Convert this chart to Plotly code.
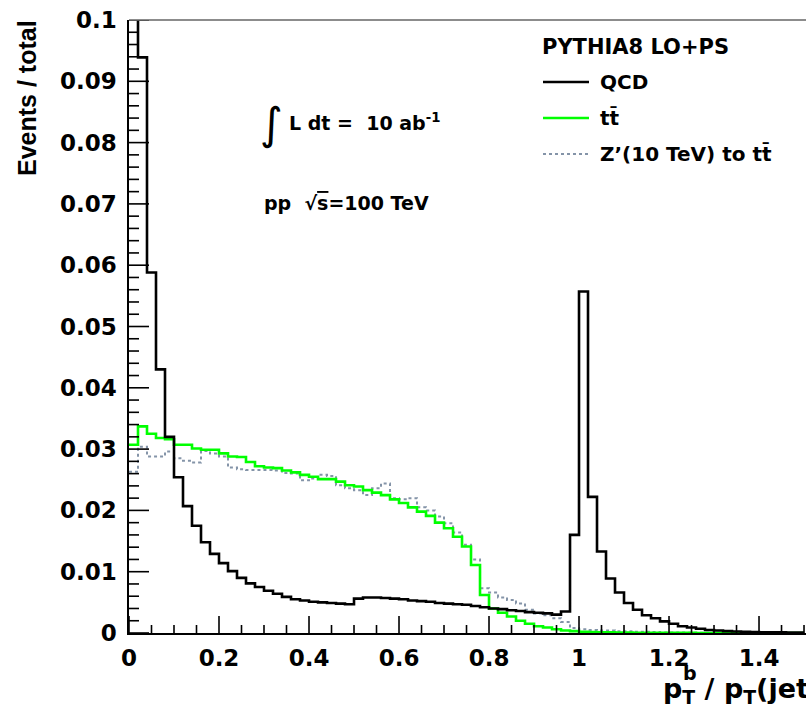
import plotly.graph_objects as go

# ---- data: normalized event fractions in bins of 0.02 from 0 to 1.5 ----
bin_width = 0.02
n_bins = 75
bin_edges = [round(i * bin_width, 4) for i in range(n_bins + 1)]

qcd = [0.15, 0.0939, 0.0588, 0.0430, 0.0320, 0.0254, 0.0207, 0.0175, 0.0148, 0.0129,
       0.0114, 0.0101, 0.0090, 0.0081, 0.0075, 0.0069, 0.0064, 0.0059, 0.0055, 0.0053,
       0.0051, 0.0050, 0.0049, 0.0048, 0.0047, 0.0056, 0.0058, 0.0058, 0.0057, 0.0056,
       0.0055, 0.0053, 0.0052, 0.0051, 0.0049, 0.0048, 0.0047, 0.0046, 0.0044, 0.0042,
       0.0040, 0.0039, 0.0037, 0.0036, 0.0034, 0.0033, 0.0032, 0.0030, 0.0035, 0.0160,
       0.0557, 0.0222, 0.0133, 0.0089, 0.0066, 0.0049, 0.0038, 0.0029, 0.0024, 0.0019,
       0.0015, 0.0011, 0.0009, 0.0007, 0.0005, 0.0004, 0.0003, 0.00025, 0.0002, 0.00015,
       0.00012, 0.0001, 0.0001, 0.00008, 0.00006]

ttbar = [0.0307, 0.0337, 0.0325, 0.0318, 0.0316, 0.0307, 0.0307, 0.0301, 0.0299, 0.0299,
         0.0293, 0.0288, 0.0287, 0.0279, 0.0272, 0.0270, 0.0269, 0.0265, 0.0262, 0.0258,
         0.0255, 0.0251, 0.0251, 0.0247, 0.0241, 0.0239, 0.0233, 0.0229, 0.0225, 0.0218,
         0.0212, 0.0205, 0.0198, 0.0191, 0.0180, 0.0171, 0.0157, 0.0141, 0.0111, 0.0062,
         0.0040, 0.0033, 0.0027, 0.0020, 0.0015, 0.0011, 0.0009, 0.0006, 0.0004, 0.0003,
         0.0002, 0.00015, 0.0001, 0.0001, 0.00008, 0.00006, 0.00005, 0.00004, 0.00003, 0.00003,
         0.00002, 0.00002, 0.00002, 0.00001, 0.00001, 0.00001, 0.00001, 0.0, 0.0, 0.0,
         0.0, 0.0, 0.0, 0.0, 0.0]

zprime = [0.0263, 0.0304, 0.0288, 0.0288, 0.0296, 0.0285, 0.0281, 0.0278, 0.0297, 0.0293,
          0.0288, 0.0270, 0.0267, 0.0266, 0.0266, 0.0266, 0.0265, 0.0261, 0.0260, 0.0249,
          0.0252, 0.0258, 0.0256, 0.0241, 0.0236, 0.0233, 0.0225, 0.0236, 0.0244, 0.0220,
          0.0218, 0.0220, 0.0205, 0.0200, 0.0190, 0.0179, 0.0164, 0.0144, 0.0120, 0.0073,
          0.0066, 0.0058, 0.0054, 0.0048, 0.0038, 0.0032, 0.0029, 0.0024, 0.0018, 0.0008,
          0.0006, 0.0005, 0.0004, 0.0004, 0.0003, 0.0003, 0.0002, 0.0002, 0.00015, 0.0001,
          0.0001, 0.00008, 0.00006, 0.00005, 0.00004, 0.00003, 0.00002, 0.00002, 0.00001, 0.00001,
          0.0, 0.0, 0.0, 0.0, 0.0]

series_names = ["QCD", "tt\u0304", "Z\u2019(10 TeV) to tt\u0304"]

# ---- layout geometry (pixels) ----
W, H = 806, 707
ML, MT, MB = 129, 20, 74
PW, PH = W - ML, H - MT - MB
XMAX = 1.5044
YMAX = 0.1
X_MAJOR, X_MINOR = 0.2, 0.05
Y_MAJOR, Y_MINOR = 0.01, 0.002
X_PER_PX = XMAX / PW
Y_PER_PX = YMAX / PH


def px(xp):
    return (xp - ML) / PW


def py(yp):
    return (MT + PH - yp) / PH


TICK_FONT = dict(family="DejaVu Sans", size=23, color="black", weight="bold")
TXT_FONT = "DejaVu Sans"


def step_xy(vals):
    xs = bin_edges[:]
    ys = list(vals) + [vals[-1]]
    return xs, ys


styles = [
    dict(color="black", width=2.6),
    dict(color="#00ff00", width=2.6),
    dict(color="#8494a8", width=2.0, dash="dot"),
]

fig = go.Figure()
for vals, name, st in [(zprime, series_names[2], styles[2]),
                       (ttbar, series_names[1], styles[1]),
                       (qcd, series_names[0], styles[0])]:
    xs, ys = step_xy(vals)
    fig.add_trace(go.Scatter(x=xs, y=ys, mode="lines", line_shape="hv",
                             line=st, name=name, showlegend=False, hoverinfo="skip"))

# ROOT-style inside tick marks drawn as a line trace on top
tx, ty = [], []
n_x = int(round(XMAX / X_MINOR)) + 1
for i in range(n_x):
    xv = round(i * X_MINOR, 4)
    if xv > XMAX:
        break
    major = abs(xv / X_MAJOR - round(xv / X_MAJOR)) < 1e-6
    ln = (17 if major else 8) * Y_PER_PX
    tx += [xv, xv, None]
    ty += [0, ln, None]
n_y = int(round(YMAX / Y_MINOR)) + 1
for i in range(n_y):
    yv = round(i * Y_MINOR, 5)
    major = abs(yv / Y_MAJOR - round(yv / Y_MAJOR)) < 1e-6
    ln = (20 if major else 10) * X_PER_PX
    tx += [0, ln, None]
    ty += [yv, yv, None]
fig.add_trace(go.Scatter(x=tx, y=ty, mode="lines", line=dict(color="black", width=1.6),
                         showlegend=False, hoverinfo="skip", connectgaps=False))

fig.update_layout(
    width=W, height=H,
    margin=dict(l=ML, r=0, t=MT, b=MB, pad=0),
    paper_bgcolor="white", plot_bgcolor="white",
    showlegend=False,
    xaxis=dict(range=[0, XMAX], showgrid=False, zeroline=False,
               showline=True, linecolor="black", linewidth=1.5,
               tickmode="linear", tick0=0, dtick=X_MAJOR, ticks="",
               tickfont=TICK_FONT, ticklabelstandoff=4),
    yaxis=dict(range=[0, YMAX], showgrid=False, zeroline=False,
               showline=True, linecolor="black", linewidth=1.5,
               tickmode="linear", tick0=0, dtick=Y_MAJOR, ticks="",
               tickfont=TICK_FONT, ticklabelstandoff=6),
)

shapes = []
# top frame line
shapes.append(dict(type="line", xref="paper", yref="paper", x0=0, x1=1, y0=1, y1=1,
                   line=dict(color="#666666", width=1.5)))
# legend samples
leg_y = [82, 118, 154]
for st, yy in zip(styles, leg_y):
    line = dict(color=st["color"], width=st["width"])
    if "dash" in st:
        line["dash"] = st["dash"]
    shapes.append(dict(type="line", xref="paper", yref="paper",
                       x0=px(543), x1=px(589), y0=py(yy), y1=py(yy), line=line))

ann = []
# legend header and labels
ann.append(dict(text="PYTHIA8 LO+PS", x=px(540), y=py(47), xanchor="left", yanchor="middle",
                font=dict(family=TXT_FONT, size=21, color="black", weight="bold")))
for name, yy in zip(series_names, leg_y):
    ann.append(dict(text=name, x=px(598), y=py(yy), xanchor="left", yanchor="middle",
                    font=dict(family=TXT_FONT, size=20, color="black", weight="bold")))

# integral text
ann.append(dict(text="\u222b", x=px(271), y=py(123), xanchor="center", yanchor="middle",
                font=dict(family="DejaVu Sans", size=44, color="black")))
ann.append(dict(text="L dt =  10 ab<sup>-1</sup>", x=px(287), y=py(122), xanchor="left",
                yanchor="middle",
                font=dict(family=TXT_FONT, size=19, color="black", weight="bold")))
ann.append(dict(text="pp  \u221a<span style='text-decoration:overline'>s</span>=100 TeV",
                x=px(262), y=py(203), xanchor="left", yanchor="middle",
                font=dict(family=TXT_FONT, size=19, color="black", weight="bold")))

# axis titles
ann.append(dict(text="Events / total", textangle=-90, x=px(27), y=py(18),
                xanchor="center", yanchor="top",
                font=dict(family="Liberation Sans", size=25, color="black", weight="bold")))
ann.append(dict(text="p<sub>T</sub> / p<sub>T</sub>(jet)", x=px(661), y=py(690),
                xanchor="left", yanchor="middle",
                font=dict(family=TXT_FONT, size=27, color="black", weight="bold")))
ann.append(dict(text="b", x=px(681), y=py(673), xanchor="left", yanchor="middle",
                font=dict(family=TXT_FONT, size=19, color="black", weight="bold")))

for a in ann:
    a.update(xref="paper", yref="paper", showarrow=False)

fig.update_layout(shapes=shapes, annotations=ann)
fig.write_html("out.html")
